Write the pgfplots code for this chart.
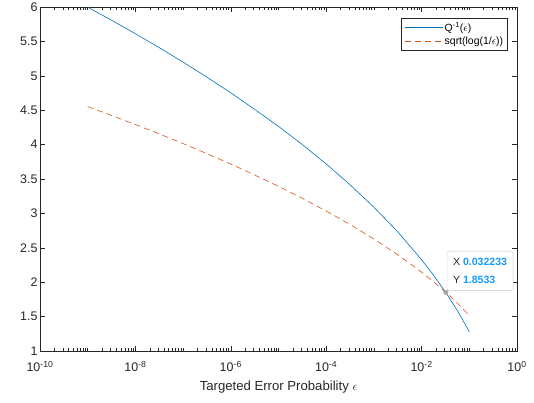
\documentclass[border=0pt]{standalone}
\usepackage{pgfplots}
\pgfplotsset{compat=1.18}
\usepackage{fontspec}
\setmainfont{Liberation Sans}

\definecolor{mblue}{rgb}{0,0.447,0.741}
\definecolor{mred}{rgb}{0.85,0.325,0.098}
\definecolor{axgray}{rgb}{0.15,0.15,0.15}
\definecolor{tipblue}{rgb}{0.1,0.6,1}

\begin{document}
\begin{tikzpicture}
\useasboundingbox (-40bp,-52bp) rectangle (494bp,351bp);
\begin{axis}[
  at={(0,0)}, anchor=south west,
  width=477bp, height=344bp,
  scale only axis,
  xmode=log,
  xmin=1e-10, xmax=1,
  ymin=1, ymax=6,
  xtick={1e-10,1e-8,1e-6,1e-4,1e-2,1},
  xticklabels={10\textsuperscript{-10},10\textsuperscript{-8},10\textsuperscript{-6},10\textsuperscript{-4},10\textsuperscript{-2},10\textsuperscript{0}},
  minor xtick={2e-10,3e-10,4e-10,5e-10,6e-10,7e-10,8e-10,9e-10,1e-9,
    2e-9,3e-9,4e-9,5e-9,6e-9,7e-9,8e-9,9e-9,
    2e-8,3e-8,4e-8,5e-8,6e-8,7e-8,8e-8,9e-8,1e-7,
    2e-7,3e-7,4e-7,5e-7,6e-7,7e-7,8e-7,9e-7,
    2e-6,3e-6,4e-6,5e-6,6e-6,7e-6,8e-6,9e-6,1e-5,
    2e-5,3e-5,4e-5,5e-5,6e-5,7e-5,8e-5,9e-5,
    2e-4,3e-4,4e-4,5e-4,6e-4,7e-4,8e-4,9e-4,1e-3,
    2e-3,3e-3,4e-3,5e-3,6e-3,7e-3,8e-3,9e-3,
    2e-2,3e-2,4e-2,5e-2,6e-2,7e-2,8e-2,9e-2,1e-1,
    2e-1,3e-1,4e-1,5e-1,6e-1,7e-1,8e-1,9e-1},
  ytick={1,1.5,...,6},
  axis line style={axgray, line width=0.5pt},
  tick style={axgray, line width=0.5pt},
  major tick length=5bp,
  minor tick length=3bp,
  tick align=inside,
  xtick pos=both, ytick pos=both,
  /pgf/number format/assume math mode=true,
  tick label style={font=\fontsize{12.5}{14}\selectfont, text=axgray},
  yticklabel style={xshift=1bp},
  xticklabel style={yshift=-7bp},
  xlabel={Targeted Error Probability $\epsilon$},
  xlabel style={font=\fontsize{13.2}{15}\selectfont, text=axgray, yshift=-2bp},
  legend style={at={(0.981,0.968)}, anchor=north east,
    draw=axgray, line width=0.5pt, fill=white,
    font=\fontsize{10.5}{12}\selectfont,
    legend cell align=left, inner xsep=3bp, inner ysep=3bp, row sep=2bp,
    nodes={inner sep=1.5bp, text depth=0.5bp}},
]
\addplot[draw=mblue, line width=0.6pt,
  legend image code/.code={\draw[mblue, line width=0.6pt] (0bp,0bp) -- (38bp,0bp);}]
  coordinates {
  (1e-9,5.9978) (3.1623e-9,5.8082) (1e-8,5.6120) (3.1623e-8,5.4090)
  (1e-7,5.1993) (3.1623e-7,4.9800) (1e-6,4.7534) (3.1623e-6,4.5120)
  (1e-5,4.2649) (3.1623e-5,4.0006) (1e-4,3.7190) (3.1623e-4,3.4164)
  (1e-3,3.0902) (3.1623e-3,2.7326) (1e-2,2.3263) (1.7783e-2,2.1024)
  (3.1623e-2,1.8575) (5.6234e-2,1.5873) (1e-1,1.2816)
};
\addlegendentry{Q\textsuperscript{-1}($\epsilon$)}
\addplot[draw=mred, line width=0.6pt, dash pattern=on 6bp off 4bp,
  legend image code/.code={\draw[mred, line width=0.6pt, dash pattern=on 6bp off 4bp] (0bp,0bp) -- (38bp,0bp);}]
  coordinates {
  (1e-9,4.5523) (3.1623e-9,4.4240) (1e-8,4.2920) (3.1623e-8,4.1556)
  (1e-7,4.0147) (3.1623e-7,3.8687) (1e-6,3.7169) (3.1623e-6,3.5587)
  (1e-5,3.3931) (3.1623e-5,3.2190) (1e-4,3.0348) (3.1623e-4,2.8389)
  (1e-3,2.6283) (3.1623e-3,2.3993) (1e-2,2.1460) (1.7783e-2,2.0074)
  (3.1623e-2,1.8585) (5.6234e-2,1.6965) (1e-1,1.5174)
};
\addlegendentry{sqrt(log(1/$\epsilon$))}
\addplot[only marks, mark=*, mark size=2.3bp, draw=gray!70, fill=gray!70, forget plot] coordinates {(0.032233,1.8533)};
\node[anchor=south west, draw=gray!45, fill=white, rounded corners=1.5bp,
  align=left, inner xsep=6bp, inner ysep=7bp, xshift=1bp, yshift=1.5bp,
  font=\fontsize{10.6}{18}\selectfont, text=axgray]
  at (axis cs:0.032233,1.8533)
  {X \textcolor{tipblue}{\textbf{0.032233}}\\Y \textcolor{tipblue}{\textbf{1.8533}}};
\end{axis}
\end{tikzpicture}
\end{document}
